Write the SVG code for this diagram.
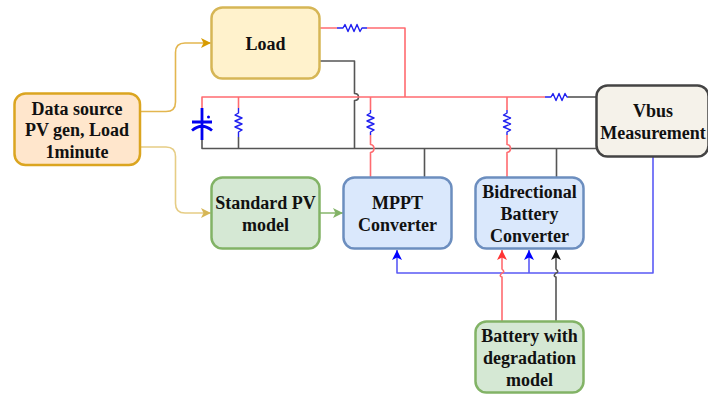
<svg xmlns="http://www.w3.org/2000/svg" width="708" height="395" viewBox="0 0 708 395">
<style>
.n{stroke-width:2.5}
text{font-family:"Liberation Serif","Times New Roman",serif;font-weight:bold;font-size:18px;fill:#111;text-anchor:middle}
.w{fill:none;stroke-width:1.6;stroke-linejoin:round}
.r{stroke:#ff6b70}.k{stroke:#555}.b{stroke:#5a5af5}
.res{fill:none;stroke:#2020f0;stroke-width:1.4;stroke-linejoin:round}
</style>
<defs>
<marker id="ay" markerWidth="12" markerHeight="12" refX="10" refY="5" orient="auto" markerUnits="userSpaceOnUse"><path d="M0 0L10 5L0 10L2.5 5Z" fill="#d79b00"/></marker>
<marker id="ay2" markerWidth="12" markerHeight="12" refX="10" refY="5" orient="auto" markerUnits="userSpaceOnUse"><path d="M0 0L10 5L0 10L2.5 5Z" fill="#d6b656"/></marker>
<marker id="ag" markerWidth="12" markerHeight="12" refX="10" refY="5" orient="auto" markerUnits="userSpaceOnUse"><path d="M0 0L10 5L0 10L2.5 5Z" fill="#82b366"/></marker>
<marker id="ab" markerWidth="12" markerHeight="12" refX="10" refY="5" orient="auto" markerUnits="userSpaceOnUse"><path d="M0 0L10 5L0 10L2.5 5Z" fill="#0000ff"/></marker>
<marker id="ar" markerWidth="12" markerHeight="12" refX="10" refY="5" orient="auto" markerUnits="userSpaceOnUse"><path d="M0 0L10 5L0 10L2.5 5Z" fill="#ff3333"/></marker>
<marker id="ak" markerWidth="12" markerHeight="12" refX="10" refY="5" orient="auto" markerUnits="userSpaceOnUse"><path d="M0 0L10 5L0 10L2.5 5Z" fill="#111"/></marker>
</defs>
<g id="connectors">
<path class="w" stroke="#e3b64f" marker-end="url(#ay)" d="M140 111.500H166Q175.500 111.500 175.500 102V52.500Q175.500 43 185 43H211"/>
<path class="w" stroke="#e6cd85" marker-end="url(#ay2)" d="M140 147H166Q175.500 147 175.500 156.500V203.500Q175.500 213 185 213H211"/>
<path class="w" stroke="#8fbb75" marker-end="url(#ag)" d="M320 213H343"/>
<path class="w r" d="M320 28H337M367 28H405V97"/>
<path class="w k" d="M320 61H354.500V93.500Q358.500 93.500 358.500 97Q358.500 100.500 354.500 100.500V148.500"/>
<path class="w r" d="M202 108V97H545"/>
<path class="w k" d="M568 97H596"/>
<path class="w k" d="M202 140V148.500H596"/>
<path class="w r" d="M238.500 108V97"/>
<path class="w k" d="M238.500 137V148.500"/>
<path class="w r" d="M370.500 97V110M370.500 135V144.500Q374 145 374 148.500Q374 152 370.500 152.500V177"/>
<path class="w r" d="M507 97V110M507 135V144.500Q510.500 145 510.500 148.500Q510.500 152 507 152.500V177"/>
<path class="w k" d="M424.500 148.500V177M556.500 148.500V177"/>
<path class="w b" d="M653 157V273H397V250" marker-end="url(#ab)"/>
<path class="w b" d="M529 273V250" marker-end="url(#ab)"/>
<path class="w r" d="M502 321V277Q498.500 276.500 502 273Q505.500 272.500 502 269V250" marker-end="url(#ar)"/>
<path class="w k" d="M556 321V277Q552.500 276.500 556 273Q559.500 272.500 556 269V250" marker-end="url(#ak)"/>
<path class="res" d="M337 28H343L345 24.500L348 31.500L351 24.500L354 31.500L357 24.500L360 31.500L362 28H367"/>
<path class="res" d="M545 97H551L553 93.500L556 100.500L559 93.500L562 100.500L565 93.500L567 97H568"/>
<path class="res" d="M238.500 108V113L235 115L242 118L235 121L242 124L235 127L242 130L238.500 132V137"/>
<path class="res" d="M370.500 110V113L367 115L374 118L367 121L374 124L367 127L374 130L370.500 132V135"/>
<path class="res" d="M507 110V113L503.500 115L510.500 118L503.500 121L510.500 124L503.500 127L510.500 130L507 132V135"/>
<path d="M202 108V140M192 122H212M192 130.500Q202 122 212 130.500" fill="none" stroke="#0000f0" stroke-width="2.800"/>
<circle cx="208.500" cy="117" r="1.500" fill="#0000f0"/>
</g>
<g id="load"><rect class="n" x="211.500" y="7.500" width="108" height="71" rx="11" fill="#fff2cc" stroke="#d6b656"/><text x="265.500" y="49.500">Load</text></g>
<g id="data-source"><rect class="n" x="14.500" y="93.500" width="125.500" height="71.500" rx="11" fill="#ffe6cc" stroke="#dba520"/><text x="77" y="115">Data source</text><text x="77" y="136">PV gen, Load</text><text x="77" y="158">1minute</text></g>
<g id="standard-pv"><rect class="n" x="211.500" y="177.500" width="108" height="71" rx="11" fill="#d5e8d4" stroke="#82b366"/><text x="265.500" y="209">Standard PV</text><text x="265.500" y="231">model</text></g>
<g id="mppt"><rect class="n" x="343.500" y="177.500" width="108" height="71" rx="11" fill="#dae8fc" stroke="#6c8ebf"/><text x="397.500" y="209">MPPT</text><text x="397.500" y="231">Converter</text></g>
<g id="bidirectional"><rect class="n" x="475.500" y="177.500" width="108" height="71" rx="11" fill="#dae8fc" stroke="#6c8ebf"/><text x="529.500" y="198">Bidrectional</text><text x="529.500" y="220">Battery</text><text x="529.500" y="242">Converter</text></g>
<g id="battery"><rect class="n" x="475.500" y="321.500" width="108" height="71" rx="11" fill="#d5e8d4" stroke="#82b366"/><text x="529.500" y="342">Battery with</text><text x="529.500" y="364">degradation</text><text x="529.500" y="386">model</text></g>
<g id="vbus"><rect class="n" x="596.500" y="85.500" width="112" height="71" rx="11" fill="#f5f2ea" stroke="#444"/><text x="653" y="117">Vbus</text><text x="653" y="139">Measurement</text></g>
</svg>
